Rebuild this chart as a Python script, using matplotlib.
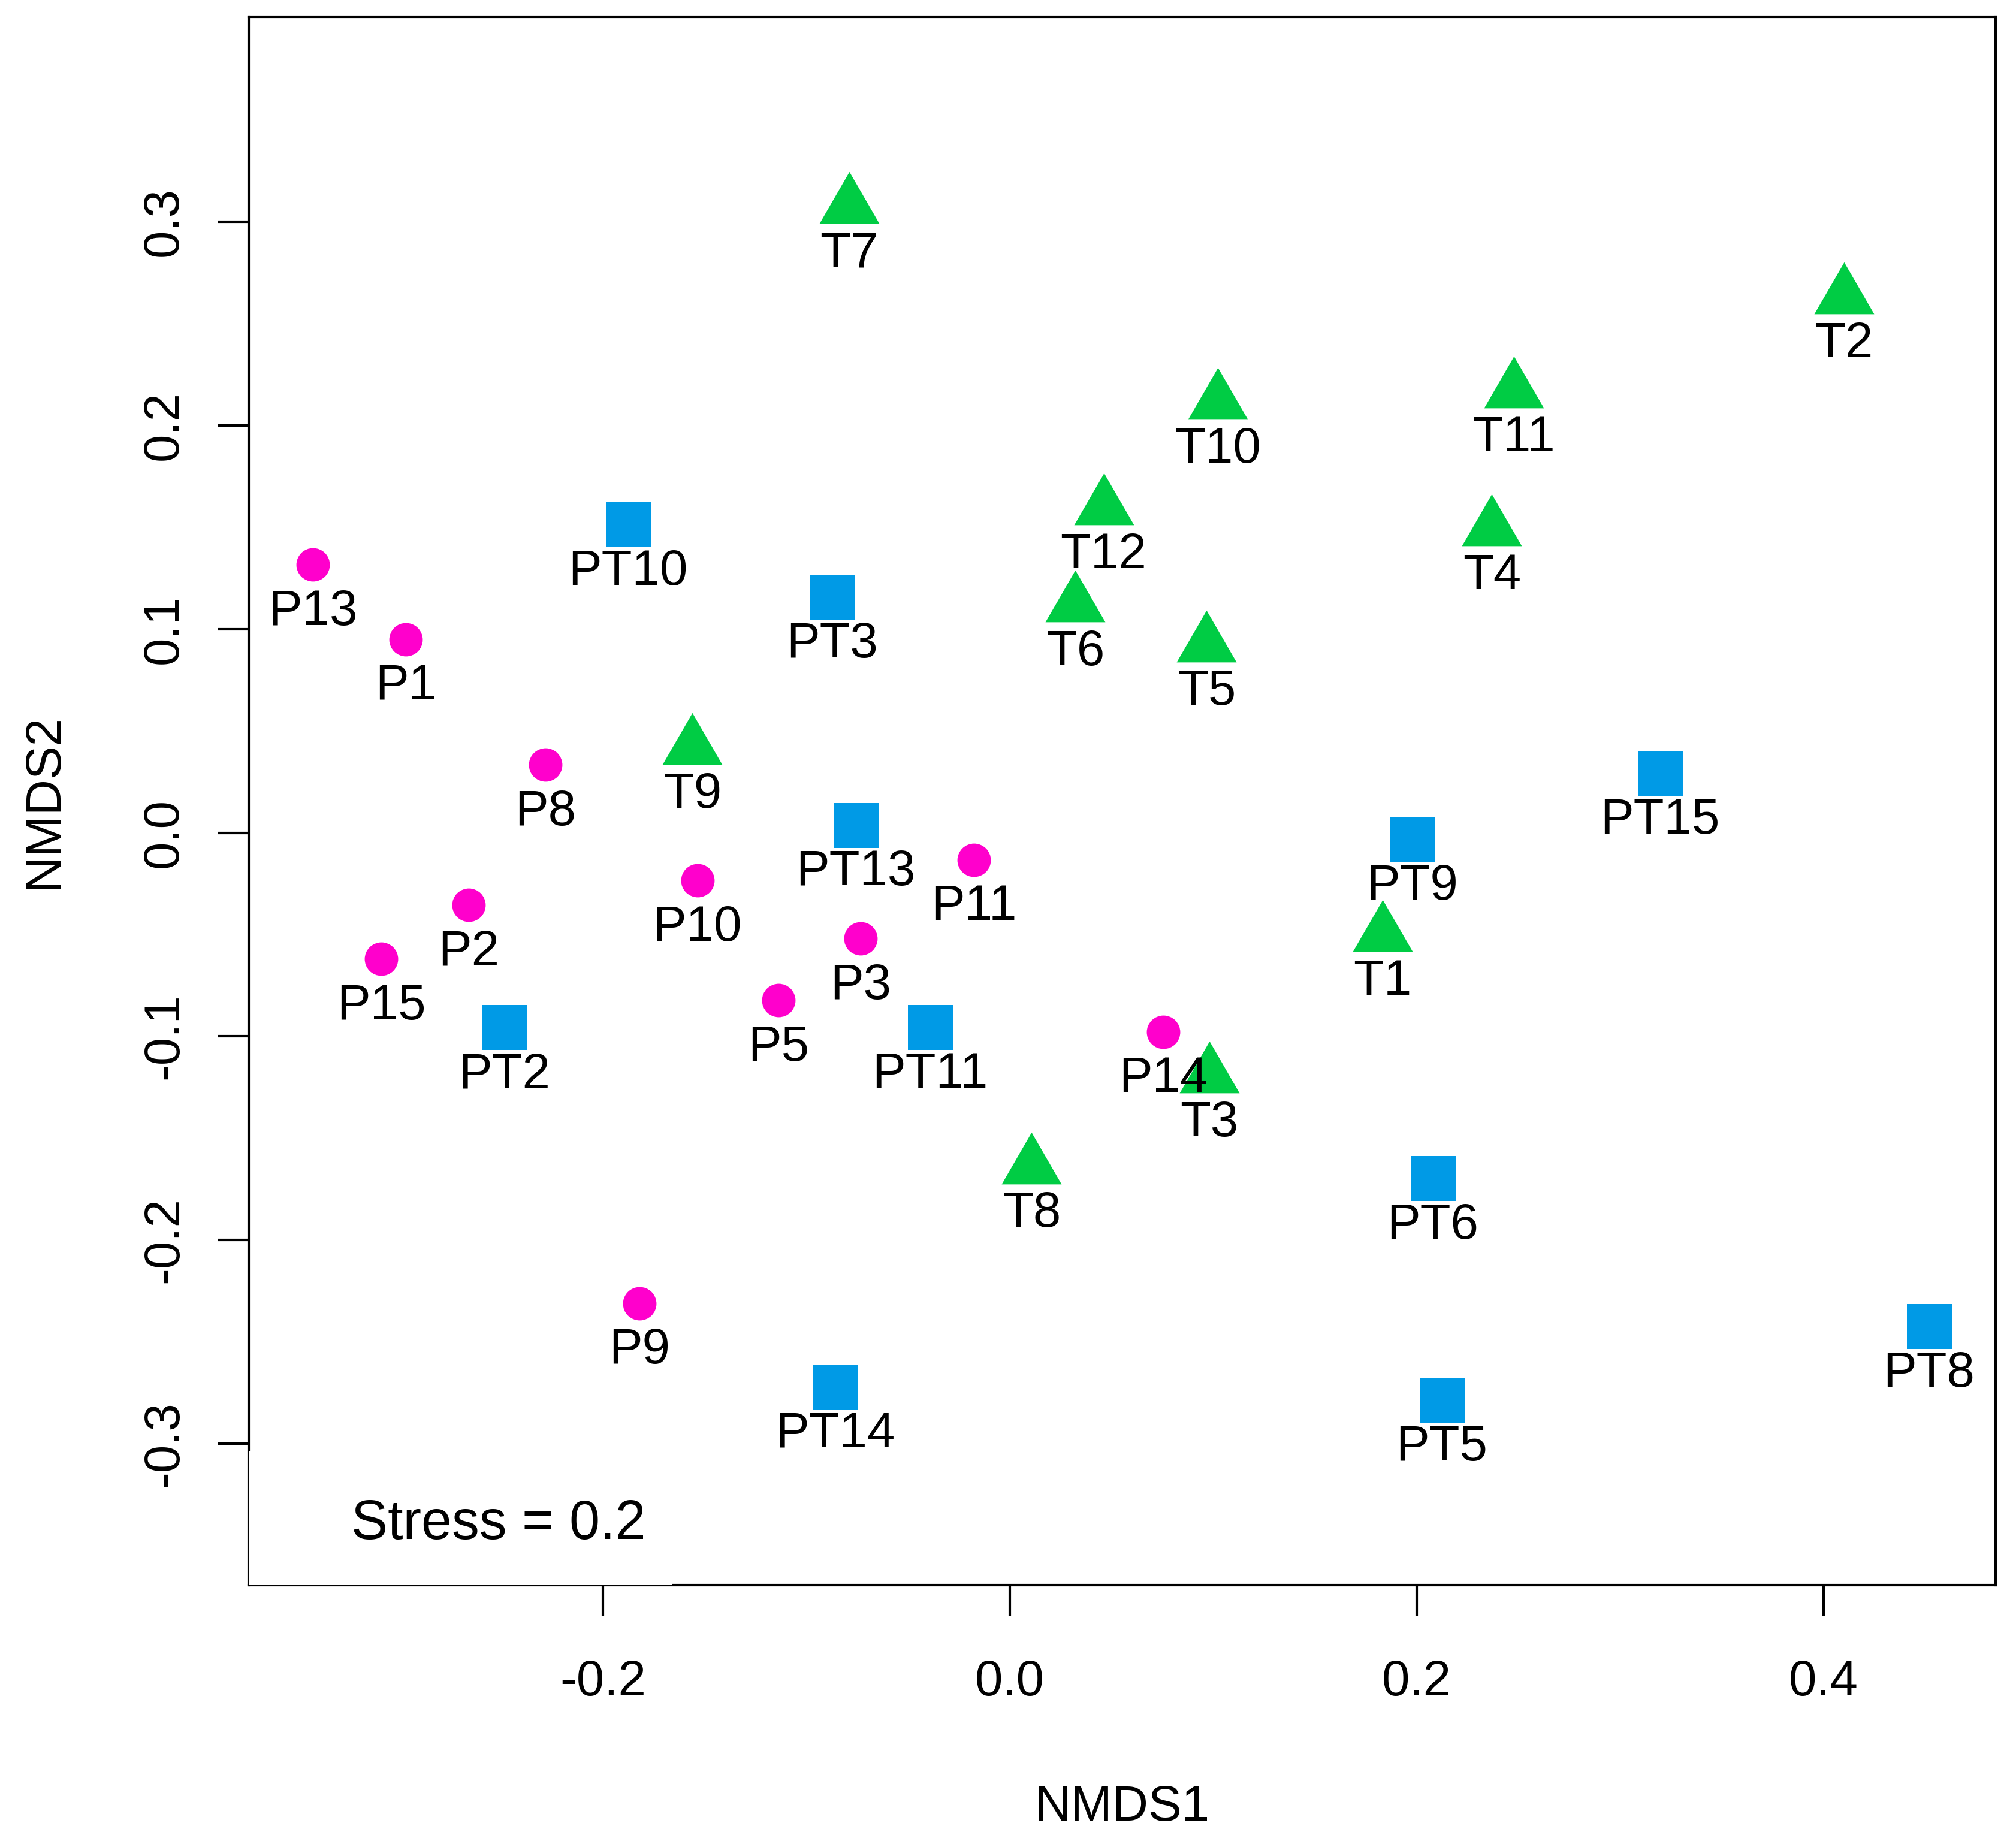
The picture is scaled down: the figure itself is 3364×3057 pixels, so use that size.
import matplotlib
matplotlib.use('Agg')
import matplotlib.pyplot as plt
from matplotlib.path import Path
from matplotlib.patches import Rectangle

# ---- data ----
p_labels = ['P13', 'P1', 'P8', 'P2', 'P15', 'P10', 'P3', 'P5', 'P11', 'P14', 'P9']
p_x = [-0.3424, -0.2969, -0.2281, -0.2660, -0.3089, -0.1535, -0.0733, -0.1137, -0.0177, 0.0754, -0.1819]
p_y = [0.1316, 0.0949, 0.0335, -0.0354, -0.0620, -0.0234, -0.0519, -0.0823, -0.0133, -0.0978, -0.2310]

pt_labels = ['PT10', 'PT3', 'PT13', 'PT2', 'PT11', 'PT9', 'PT15', 'PT6', 'PT14', 'PT5', 'PT8']
pt_x = [-0.1876, -0.0872, -0.0758, -0.2483, -0.0392, 0.1977, 0.3196, 0.2078, -0.0859, 0.2123, 0.4517]
pt_y = [0.1513, 0.1158, 0.0038, -0.0956, -0.0956, -0.0032, 0.0291, -0.1696, -0.2722, -0.2785, -0.2424]

t_labels = ['T7', 'T2', 'T10', 'T11', 'T12', 'T4', 'T6', 'T5', 'T9', 'T1', 'T3', 'T8']
t_x = [-0.0790, 0.4100, 0.1023, 0.2476, 0.0461, 0.2369, 0.0322, 0.0967, -0.1560, 0.1832, 0.0981, 0.0107]
t_y = [0.3076, 0.2633, 0.2114, 0.2171, 0.1595, 0.1494, 0.1120, 0.0924, 0.0418, -0.0500, -0.1194, -0.1639]

x_ticks = [-0.2, 0.0, 0.2, 0.4]
x_ticklabels = ['-0.2', '0.0', '0.2', '0.4']
y_ticks = [-0.3, -0.2, -0.1, 0.0, 0.1, 0.2, 0.3]
y_ticklabels = ['-0.3', '-0.2', '-0.1', '0.0', '0.1', '0.2', '0.3']
stress_text = 'Stress = 0.2'

# ---- style ----
plt.rcParams['font.family'] = ['Liberation Sans', 'DejaVu Sans']
PINK = '#FF00CC'
BLUE = '#009AE6'
GREEN = '#00CC44'

fig = plt.figure(figsize=(3364 / 300, 3057 / 300), dpi=300)
ax = fig.add_axes([0.1234, 0.1348, 0.9899 - 0.1234, 0.9908 - 0.1348])
ax.set_xlim(-0.374, 0.4845)
ax.set_ylim(-0.3694, 0.4006)

tri = Path([(0, 1), (-0.8660254, -0.5), (0.8660254, -0.5), (0, 1)],
           [Path.MOVETO, Path.LINETO, Path.LINETO, Path.CLOSEPOLY])

ax.plot(p_x, p_y, ls='none', marker='o', ms=13.4, mfc=PINK, mec='none', zorder=3)
ax.plot(pt_x, pt_y, ls='none', marker='s', ms=18, mfc=BLUE, mec='none', zorder=3)
ax.plot(t_x, t_y, ls='none', marker=tri, ms=27.7, mfc=GREEN, mec='none', zorder=3)

for labs, xs, ys in [(p_labels, p_x, p_y), (pt_labels, pt_x, pt_y), (t_labels, t_x, t_y)]:
    for lab, x, y in zip(labs, xs, ys):
        ax.annotate(lab, (x, y), xytext=(0, -24.2), textcoords='offset points',
                    ha='center', va='baseline', fontsize=20, zorder=5)

ax.set_xticks(x_ticks)
ax.set_xticklabels(x_ticklabels)
ax.set_yticks(y_ticks)
ax.set_yticklabels(y_ticklabels, rotation=90, va='center')
ax.tick_params(axis='both', direction='out', length=12.5, width=1.0, labelsize=20, color='black')
ax.tick_params(axis='x', pad=17)
ax.tick_params(axis='y', pad=12)
for s in ax.spines.values():
    s.set_linewidth(1.0)
    s.set_color('black')

ax.set_xlabel('NMDS1', fontsize=20)
ax.xaxis.set_label_coords(0.5, -0.1269)
ax.set_ylabel('NMDS2', fontsize=20)
ax.yaxis.set_label_coords(-0.104, 0.5)

# stress legend: white box (no border) covering the inner half of the spines
box = Rectangle((0, 0), 0.2422, 0.0856, transform=ax.transAxes, facecolor='white',
                edgecolor='none', linewidth=0, clip_on=False, zorder=4)
ax.add_patch(box)
ax.text(0.143, 0.0294, stress_text, transform=ax.transAxes, ha='center', va='baseline',
        fontsize=22, zorder=6)

fig.savefig('out.png', dpi=300, facecolor='white')
